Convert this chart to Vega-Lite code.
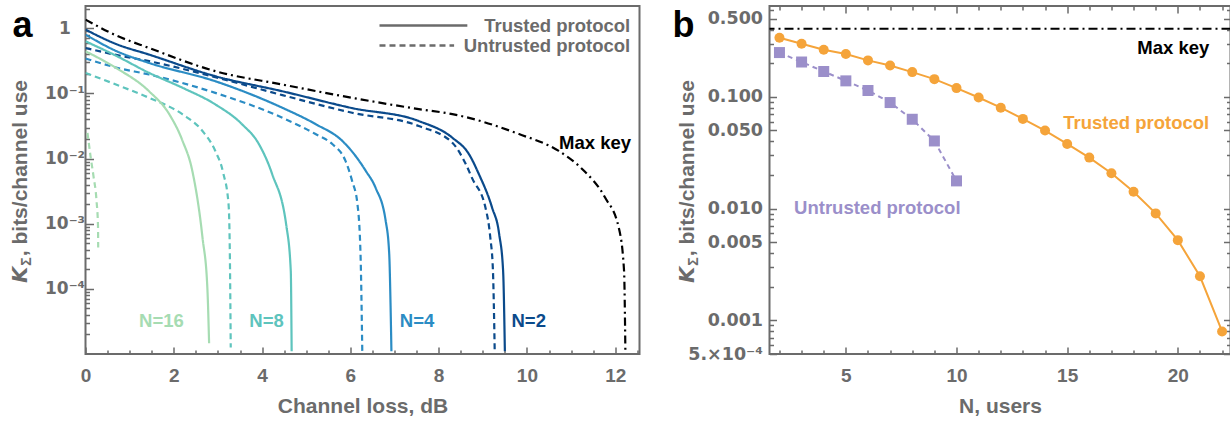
{
"$schema":"https://vega.github.io/schema/vega-lite/v6.json",
"autosize":{"type":"pad"},
"padding":{"left":7.5,"top":4,"right":0,"bottom":0},
"bounds":"flush",
"spacing":130,
"config":{
 "font":"Liberation Sans",
 "view":{"stroke":"#6b6b6b","strokeWidth":2},
 "axis":{"domain":false,"grid":false,"labelFont":"Liberation Sans","labelFontWeight":"bold","labelColor":"#6b6b6b","labelFontSize":19,"titleFont":"Liberation Sans","titleFontWeight":"bold","titleColor":"#6b6b6b","titleFontSize":21,"tickColor":"#6b6b6b","tickWidth":1.5,"labelOverlap":false,"labelFlush":false},
 "text":{"font":"Liberation Sans","fontWeight":"bold","fontSize":18.5}
},
"datasets":{
 "curves":[
  {"series":"Max key","protocol":"Max key","L":0,"K":1.36},
  {"series":"Max key","protocol":"Max key","L":0.69,"K":0.78},
  {"series":"Max key","protocol":"Max key","L":1.44,"K":0.499},
  {"series":"Max key","protocol":"Max key","L":2.94,"K":0.22},
  {"series":"Max key","protocol":"Max key","L":4.46,"K":0.137},
  {"series":"Max key","protocol":"Max key","L":6.04,"K":0.0857},
  {"series":"Max key","protocol":"Max key","L":7.55,"K":0.0575},
  {"series":"Max key","protocol":"Max key","L":8.31,"K":0.0482},
  {"series":"Max key","protocol":"Max key","L":9.82,"K":0.0238},
  {"series":"Max key","protocol":"Max key","L":10.72,"K":0.0131},
  {"series":"Max key","protocol":"Max key","L":11.25,"K":0.00693},
  {"series":"Max key","protocol":"Max key","L":11.77,"K":0.00252},
  {"series":"Max key","protocol":"Max key","L":12.08,"K":0.00087},
  {"series":"Max key","protocol":"Max key","L":12.2,"K":0.00019},
  {"series":"Max key","protocol":"Max key","L":12.23,"K":0.000011},
  {"series":"N=2","protocol":"Trusted protocol","L":0,"K":0.955},
  {"series":"N=2","protocol":"Trusted protocol","L":0.69,"K":0.575},
  {"series":"N=2","protocol":"Trusted protocol","L":1.44,"K":0.395},
  {"series":"N=2","protocol":"Trusted protocol","L":2.94,"K":0.184},
  {"series":"N=2","protocol":"Trusted protocol","L":4.46,"K":0.108},
  {"series":"N=2","protocol":"Trusted protocol","L":6.04,"K":0.0596},
  {"series":"N=2","protocol":"Trusted protocol","L":7.55,"K":0.0377},
  {"series":"N=2","protocol":"Trusted protocol","L":8.31,"K":0.0209},
  {"series":"N=2","protocol":"Trusted protocol","L":8.69,"K":0.0116},
  {"series":"N=2","protocol":"Trusted protocol","L":8.91,"K":0.0058},
  {"series":"N=2","protocol":"Trusted protocol","L":9.21,"K":0.00177},
  {"series":"N=2","protocol":"Trusted protocol","L":9.37,"K":0.0007},
  {"series":"N=2","protocol":"Trusted protocol","L":9.46,"K":0.00019},
  {"series":"N=2","protocol":"Trusted protocol","L":9.5,"K":0.000011},
  {"series":"N=2","protocol":"Untrusted protocol","L":0,"K":0.499},
  {"series":"N=2","protocol":"Untrusted protocol","L":0.69,"K":0.39},
  {"series":"N=2","protocol":"Untrusted protocol","L":1.44,"K":0.313},
  {"series":"N=2","protocol":"Untrusted protocol","L":2.94,"K":0.178},
  {"series":"N=2","protocol":"Untrusted protocol","L":4.46,"K":0.0942},
  {"series":"N=2","protocol":"Untrusted protocol","L":6.04,"K":0.0505},
  {"series":"N=2","protocol":"Untrusted protocol","L":7.55,"K":0.0316},
  {"series":"N=2","protocol":"Untrusted protocol","L":8.31,"K":0.0175},
  {"series":"N=2","protocol":"Untrusted protocol","L":8.62,"K":0.0081},
  {"series":"N=2","protocol":"Untrusted protocol","L":8.76,"K":0.00496},
  {"series":"N=2","protocol":"Untrusted protocol","L":9.06,"K":0.00177},
  {"series":"N=2","protocol":"Untrusted protocol","L":9.17,"K":0.000615},
  {"series":"N=2","protocol":"Untrusted protocol","L":9.23,"K":0.00019},
  {"series":"N=2","protocol":"Untrusted protocol","L":9.27,"K":0.000011},
  {"series":"N=4","protocol":"Trusted protocol","L":0,"K":0.8},
  {"series":"N=4","protocol":"Trusted protocol","L":0.69,"K":0.45},
  {"series":"N=4","protocol":"Trusted protocol","L":1.44,"K":0.294},
  {"series":"N=4","protocol":"Trusted protocol","L":2.94,"K":0.154},
  {"series":"N=4","protocol":"Trusted protocol","L":4.46,"K":0.0602},
  {"series":"N=4","protocol":"Trusted protocol","L":5.21,"K":0.0339},
  {"series":"N=4","protocol":"Trusted protocol","L":5.82,"K":0.0186},
  {"series":"N=4","protocol":"Trusted protocol","L":6.2,"K":0.0092},
  {"series":"N=4","protocol":"Trusted protocol","L":6.35,"K":0.00646},
  {"series":"N=4","protocol":"Trusted protocol","L":6.57,"K":0.00358},
  {"series":"N=4","protocol":"Trusted protocol","L":6.8,"K":0.00111},
  {"series":"N=4","protocol":"Trusted protocol","L":6.88,"K":0.000346},
  {"series":"N=4","protocol":"Trusted protocol","L":6.91,"K":0.000059},
  {"series":"N=4","protocol":"Trusted protocol","L":6.93,"K":0.000011},
  {"series":"N=4","protocol":"Untrusted protocol","L":0,"K":0.344},
  {"series":"N=4","protocol":"Untrusted protocol","L":0.69,"K":0.25},
  {"series":"N=4","protocol":"Untrusted protocol","L":1.44,"K":0.195},
  {"series":"N=4","protocol":"Untrusted protocol","L":2.94,"K":0.102},
  {"series":"N=4","protocol":"Untrusted protocol","L":4.46,"K":0.0423},
  {"series":"N=4","protocol":"Untrusted protocol","L":5.21,"K":0.0238},
  {"series":"N=4","protocol":"Untrusted protocol","L":5.59,"K":0.0167},
  {"series":"N=4","protocol":"Untrusted protocol","L":5.89,"K":0.0092},
  {"series":"N=4","protocol":"Untrusted protocol","L":6.04,"K":0.00454},
  {"series":"N=4","protocol":"Untrusted protocol","L":6.16,"K":0.00202},
  {"series":"N=4","protocol":"Untrusted protocol","L":6.23,"K":0.000346},
  {"series":"N=4","protocol":"Untrusted protocol","L":6.27,"K":0.000011},
  {"series":"N=8","protocol":"Trusted protocol","L":0,"K":0.632},
  {"series":"N=8","protocol":"Trusted protocol","L":0.69,"K":0.38},
  {"series":"N=8","protocol":"Trusted protocol","L":1.44,"K":0.207},
  {"series":"N=8","protocol":"Trusted protocol","L":2.2,"K":0.122},
  {"series":"N=8","protocol":"Trusted protocol","L":2.94,"K":0.0679},
  {"series":"N=8","protocol":"Trusted protocol","L":3.55,"K":0.0335},
  {"series":"N=8","protocol":"Trusted protocol","L":3.93,"K":0.0166},
  {"series":"N=8","protocol":"Trusted protocol","L":4.23,"K":0.00575},
  {"series":"N=8","protocol":"Trusted protocol","L":4.55,"K":0.00093},
  {"series":"N=8","protocol":"Trusted protocol","L":4.65,"K":0.00019},
  {"series":"N=8","protocol":"Trusted protocol","L":4.67,"K":0.000011},
  {"series":"N=8","protocol":"Untrusted protocol","L":0,"K":0.207},
  {"series":"N=8","protocol":"Untrusted protocol","L":0.69,"K":0.137},
  {"series":"N=8","protocol":"Untrusted protocol","L":1.44,"K":0.0857},
  {"series":"N=8","protocol":"Untrusted protocol","L":2.2,"K":0.0477},
  {"series":"N=8","protocol":"Untrusted protocol","L":2.65,"K":0.0265},
  {"series":"N=8","protocol":"Untrusted protocol","L":2.94,"K":0.0131},
  {"series":"N=8","protocol":"Untrusted protocol","L":3.12,"K":0.00602},
  {"series":"N=8","protocol":"Untrusted protocol","L":3.24,"K":0.00202},
  {"series":"N=8","protocol":"Untrusted protocol","L":3.27,"K":0.000346},
  {"series":"N=8","protocol":"Untrusted protocol","L":3.29,"K":0.0000126},
  {"series":"N=16","protocol":"Trusted protocol","L":0,"K":0.444},
  {"series":"N=16","protocol":"Trusted protocol","L":0.69,"K":0.247},
  {"series":"N=16","protocol":"Trusted protocol","L":1.44,"K":0.108},
  {"series":"N=16","protocol":"Trusted protocol","L":1.9,"K":0.0477},
  {"series":"N=16","protocol":"Trusted protocol","L":2.2,"K":0.0186},
  {"series":"N=16","protocol":"Trusted protocol","L":2.42,"K":0.00646},
  {"series":"N=16","protocol":"Trusted protocol","L":2.65,"K":0.000615},
  {"series":"N=16","protocol":"Trusted protocol","L":2.76,"K":0.000105},
  {"series":"N=16","protocol":"Trusted protocol","L":2.8,"K":0.0000146},
  {"series":"N=16","protocol":"Untrusted protocol","L":0.045,"K":0.0249},
  {"series":"N=16","protocol":"Untrusted protocol","L":0.113,"K":0.011},
  {"series":"N=16","protocol":"Untrusted protocol","L":0.18,"K":0.00542},
  {"series":"N=16","protocol":"Untrusted protocol","L":0.25,"K":0.00224},
  {"series":"N=16","protocol":"Untrusted protocol","L":0.283,"K":0.00093},
  {"series":"N=16","protocol":"Untrusted protocol","L":0.2875,"K":0.00043}
 ],
 "alabels":[
  {"series":"N=16","label":"N=16","L":1.72,"K":0.0000326},
  {"series":"N=8","label":"N=8","L":4.1,"K":0.0000326},
  {"series":"N=4","label":"N=4","L":7.51,"K":0.0000326},
  {"series":"N=2","label":"N=2","L":10.04,"K":0.0000326},
  {"series":"Max key","label":"Max key","L":12.36,"K":0.0175}
 ],
 "alegend":[
  {"protocol":"Trusted protocol","L1":6.66,"L2":8.65,"Lt":12.34,"K":1.1},
  {"protocol":"Untrusted protocol","L1":6.66,"L2":8.35,"Lt":12.34,"K":0.543}
 ],
 "bpts":[
  {"protocol":"Trusted protocol","N":2,"K":0.338},
  {"protocol":"Trusted protocol","N":3,"K":0.299},
  {"protocol":"Trusted protocol","N":4,"K":0.264},
  {"protocol":"Trusted protocol","N":5,"K":0.242},
  {"protocol":"Trusted protocol","N":6,"K":0.212},
  {"protocol":"Trusted protocol","N":7,"K":0.191},
  {"protocol":"Trusted protocol","N":8,"K":0.1665},
  {"protocol":"Trusted protocol","N":9,"K":0.144},
  {"protocol":"Trusted protocol","N":10,"K":0.1197},
  {"protocol":"Trusted protocol","N":11,"K":0.0986},
  {"protocol":"Trusted protocol","N":12,"K":0.08},
  {"protocol":"Trusted protocol","N":13,"K":0.0635},
  {"protocol":"Trusted protocol","N":14,"K":0.0499},
  {"protocol":"Trusted protocol","N":15,"K":0.0379},
  {"protocol":"Trusted protocol","N":16,"K":0.0286},
  {"protocol":"Trusted protocol","N":17,"K":0.0207},
  {"protocol":"Trusted protocol","N":18,"K":0.01416},
  {"protocol":"Trusted protocol","N":19,"K":0.00906},
  {"protocol":"Trusted protocol","N":20,"K":0.00522},
  {"protocol":"Trusted protocol","N":21,"K":0.00248},
  {"protocol":"Trusted protocol","N":22,"K":0.000796},
  {"protocol":"Untrusted protocol","N":2,"K":0.249},
  {"protocol":"Untrusted protocol","N":3,"K":0.205},
  {"protocol":"Untrusted protocol","N":4,"K":0.1686},
  {"protocol":"Untrusted protocol","N":5,"K":0.139},
  {"protocol":"Untrusted protocol","N":6,"K":0.114},
  {"protocol":"Untrusted protocol","N":7,"K":0.0889},
  {"protocol":"Untrusted protocol","N":8,"K":0.063},
  {"protocol":"Untrusted protocol","N":9,"K":0.0403},
  {"protocol":"Untrusted protocol","N":10,"K":0.0177}
 ],
 "bmax":[{"series":"Max key","K":0.407}],
 "btext":[
  {"label":"Max key","N":21.42,"K":0.275},
  {"label":"Trusted protocol","N":21.42,"K":0.0588},
  {"label":"Untrusted protocol","N":2.66,"K":0.01005}
 ]
},
"hconcat":[
 {
  "width":554,"height":348,
  "resolve":{"axis":{"x":"independent","y":"independent"}},
  "layer":[
   {
    "data":{"name":"curves"},
    "mark":{"type":"line","strokeWidth":2.2,"interpolate":"monotone","clip":true},
    "encoding":{
     "x":{"field":"L","type":"quantitative","scale":{"domain":[0,12.55],"nice":false,"zero":false},
      "axis":{"orient":"bottom","values":[0,2,4,6,8,10,12],"ticks":false,"labelPadding":12,"title":"Channel loss, dB","titleY":52,"titleBaseline":"middle"}},
     "y":{"field":"K","type":"quantitative","scale":{"type":"log","domain":[0.00001,2.2],"nice":false},
      "axis":{"orient":"left","values":[1,0.1,0.01,0.001,0.0001],"ticks":false,"labelAlign":"center","labelPadding":21,"labelFont":"DejaVu Sans","labelFontSize":17,
       "labelExpr":"datum.value > 0.5 ? '1' : datum.value > 0.05 ? '10⁻¹' : datum.value > 0.005 ? '10⁻²' : datum.value > 0.0005 ? '10⁻³' : '10⁻⁴'",
       "title":", bits/channel use","titleX":-65,"titleY":249.7,"titleAngle":270,"titleBaseline":"middle","titleAlign":"left"}},
     "color":{"field":"series","type":"nominal","scale":{"domain":["N=2","N=4","N=8","N=16","Max key"],"range":["#0b4a8b","#2b8cc4","#5ec4bd","#a6dcb2","#000000"]},"legend":null},
     "strokeDash":{"field":"protocol","type":"nominal","scale":{"domain":["Trusted protocol","Untrusted protocol","Max key"],"range":[[1,0],[6,4],[8,4,2,4]]},"legend":null}
    }
   },
   {
    "data":{"name":"alabels"},
    "transform":[{"filter":"datum.series != 'Max key'"}],
    "mark":{"type":"text","align":"center","baseline":"middle"},
    "encoding":{
     "x":{"field":"L","type":"quantitative","scale":{"domain":[0,12.55],"nice":false,"zero":false},
      "axis":{"orient":"bottom","values":[0,2,4,6,8,10,12],"labels":false,"tickSize":-7,"title":null}},
     "y":{"field":"K","type":"quantitative","scale":{"type":"log","domain":[0.00001,2.2],"nice":false},
      "axis":{"orient":"left","values":[1,0.1,0.01,0.001,0.0001],"labels":false,"tickSize":-8,
       "title":"a","titleX":-73.5,"titleY":30,"titleAngle":0,"titleAlign":"left","titleBaseline":"alphabetic","titleFontSize":36,"titleColor":"#000000"}},
     "text":{"field":"label"},
     "color":{"field":"series","type":"nominal","scale":{"domain":["N=2","N=4","N=8","N=16","Max key"],"range":["#0b4a8b","#2b8cc4","#5ec4bd","#a6dcb2","#000000"]},"legend":null}
    }
   },
   {
    "data":{"name":"alabels"},
    "transform":[{"filter":"datum.series == 'Max key'"}],
    "mark":{"type":"text","align":"right","baseline":"middle","color":"#000000"},
    "encoding":{
     "x":{"field":"L","type":"quantitative","scale":{"domain":[0,12.55],"nice":false,"zero":false},
      "axis":{"orient":"bottom","values":[0.5,1,1.5,2.5,3,3.5,4.5,5,5.5,6.5,7,7.5,8.5,9,9.5,10.5,11,11.5,12.5],"labels":false,"tickSize":-4,"title":null}},
     "y":{"field":"K","type":"quantitative","scale":{"type":"log","domain":[0.00001,2.2],"nice":false},
      "axis":{"orient":"left","values":[0.00002,0.00003,0.00004,0.00005,0.00006,0.00007,0.00008,0.00009,0.0002,0.0003,0.0004,0.0005,0.0006,0.0007,0.0008,0.0009,0.002,0.003,0.004,0.005,0.006,0.007,0.008,0.009,0.02,0.03,0.04,0.05,0.06,0.07,0.08,0.09,0.2,0.3,0.4,0.5,0.6,0.7,0.8,0.9,2],"labels":false,"tickSize":-4,
       "title":"𝙆","titleX":-65,"titleY":276,"titleAngle":270,"titleBaseline":"middle","titleAlign":"left"}},
     "text":{"field":"label"}
    }
   },
   {
    "data":{"name":"alegend"},
    "mark":{"type":"rule","color":"#6b6b6b","strokeWidth":2.5},
    "encoding":{
     "x":{"field":"L1","type":"quantitative","scale":{"domain":[0,12.55],"nice":false,"zero":false},"axis":null},
     "x2":{"field":"L2"},
     "y":{"field":"K","type":"quantitative","scale":{"type":"log","domain":[0.00001,2.2],"nice":false},
      "axis":{"orient":"left","labels":false,"ticks":false,"title":"Σ","titleX":-59.5,"titleY":259.2,"titleAngle":270,"titleBaseline":"middle","titleAlign":"left","titleFontSize":14}},
     "strokeDash":{"field":"protocol","type":"nominal","scale":{"domain":["Trusted protocol","Untrusted protocol","Max key"],"range":[[1,0],[6,4],[8,4,2,4]]},"legend":null}
    }
   },
   {
    "data":{"name":"alegend"},
    "mark":{"type":"text","align":"right","baseline":"middle","color":"#6b6b6b"},
    "encoding":{
     "x":{"field":"Lt","type":"quantitative","scale":{"domain":[0,12.55],"nice":false,"zero":false},"axis":null},
     "y":{"field":"K","type":"quantitative","scale":{"type":"log","domain":[0.00001,2.2],"nice":false},"axis":null},
     "text":{"field":"protocol"}
    }
   }
  ]
 },
 {
  "width":461,"height":348,
  "resolve":{"axis":{"x":"independent","y":"independent"}},
  "layer":[
   {
    "data":{"name":"bpts"},
    "transform":[{"filter":"datum.protocol == 'Trusted protocol'"}],
    "mark":{"type":"line","color":"#f5a43a","strokeWidth":2,"point":{"filled":true,"shape":"circle","size":100,"color":"#f5a43a"}},
    "encoding":{
     "x":{"field":"N","type":"quantitative","scale":{"domain":[1.55,22.38],"nice":false,"zero":false},
      "axis":{"orient":"bottom","values":[5,10,15,20],"ticks":false,"labelPadding":12,"title":"N, users","titleY":52,"titleBaseline":"middle"}},
     "y":{"field":"K","type":"quantitative","scale":{"type":"log","domain":[0.0005,0.65],"nice":false},
      "axis":{"orient":"left","values":[0.5,0.1,0.05,0.01,0.005,0.001,0.0005],"ticks":false,"labelPadding":7,"labelFont":"DejaVu Sans","labelFontSize":17.5,
       "labelExpr":"datum.value > 0.3 ? '0.500' : datum.value > 0.07 ? '0.100' : datum.value > 0.03 ? '0.050' : datum.value > 0.007 ? '0.010' : datum.value > 0.003 ? '0.005' : datum.value > 0.0007 ? '0.001' : '5.×10⁻⁴'",
       "title":", bits/channel use","titleX":-82,"titleY":249.7,"titleAngle":270,"titleBaseline":"middle","titleAlign":"left"}}
    }
   },
   {
    "data":{"name":"bpts"},
    "transform":[{"filter":"datum.protocol == 'Untrusted protocol'"}],
    "mark":{"type":"line","color":"#9b8fca","strokeWidth":2,"strokeDash":[5,4],"point":{"filled":true,"shape":"square","size":121,"color":"#9b8fca"}},
    "encoding":{
     "x":{"field":"N","type":"quantitative","scale":{"domain":[1.55,22.38],"nice":false,"zero":false},
      "axis":{"orient":"bottom","values":[5,10,15,20],"labels":false,"tickSize":-7,"title":null}},
     "y":{"field":"K","type":"quantitative","scale":{"type":"log","domain":[0.0005,0.65],"nice":false},
      "axis":{"orient":"left","values":[0.5,0.1,0.05,0.01,0.005,0.001,0.0005],"labels":false,"tickSize":-7,
       "title":"b","titleX":-97.5,"titleY":30,"titleAngle":0,"titleAlign":"left","titleBaseline":"alphabetic","titleFontSize":36,"titleColor":"#000000"}}
    }
   },
   {
    "data":{"name":"bmax"},
    "mark":{"type":"rule","color":"#000000","strokeWidth":2,"strokeDash":[9,4,2,4]},
    "encoding":{
     "y":{"field":"K","type":"quantitative","scale":{"type":"log","domain":[0.0005,0.65],"nice":false},
      "axis":{"orient":"left","values":[0.0006,0.0007,0.0008,0.0009,0.002,0.003,0.004,0.006,0.007,0.008,0.009,0.02,0.03,0.04,0.06,0.07,0.08,0.09,0.2,0.3,0.4,0.6],"labels":false,"tickSize":-4,
       "title":"𝙆","titleX":-82,"titleY":276,"titleAngle":270,"titleBaseline":"middle","titleAlign":"left"}}
    }
   },
   {
    "data":{"name":"btext"},
    "transform":[{"filter":"datum.label == 'Max key'"}],
    "mark":{"type":"text","align":"right","baseline":"middle","color":"#000000"},
    "encoding":{
     "x":{"field":"N","type":"quantitative","scale":{"domain":[1.55,22.38],"nice":false,"zero":false},
      "axis":{"orient":"bottom","values":[2,3,4,6,7,8,9,11,12,13,14,16,17,18,19,21,22],"labels":false,"tickSize":-4,"title":null}},
     "y":{"field":"K","type":"quantitative","scale":{"type":"log","domain":[0.0005,0.65],"nice":false},
      "axis":{"orient":"right","values":[0.5,0.1,0.05,0.01,0.005,0.001,0.0005],"labels":false,"tickSize":-7,"title":null}},
     "text":{"field":"label"}
    }
   },
   {
    "data":{"name":"btext"},
    "transform":[{"filter":"datum.label == 'Trusted protocol'"}],
    "mark":{"type":"text","align":"right","baseline":"middle","color":"#f5a43a"},
    "encoding":{
     "x":{"field":"N","type":"quantitative","scale":{"domain":[1.55,22.38],"nice":false,"zero":false},
      "axis":{"orient":"top","values":[5,10,15,20],"labels":false,"tickSize":-7,"title":null}},
     "y":{"field":"K","type":"quantitative","scale":{"type":"log","domain":[0.0005,0.65],"nice":false},
      "axis":{"orient":"right","values":[0.0006,0.0007,0.0008,0.0009,0.002,0.003,0.004,0.006,0.007,0.008,0.009,0.02,0.03,0.04,0.06,0.07,0.08,0.09,0.2,0.3,0.4,0.6],"labels":false,"tickSize":-4,"title":null}},
     "text":{"field":"label"}
    }
   },
   {
    "data":{"name":"btext"},
    "transform":[{"filter":"datum.label == 'Untrusted protocol'"}],
    "mark":{"type":"text","align":"left","baseline":"middle","color":"#9b8fca"},
    "encoding":{
     "x":{"field":"N","type":"quantitative","scale":{"domain":[1.55,22.38],"nice":false,"zero":false},
      "axis":{"orient":"top","values":[2,3,4,6,7,8,9,11,12,13,14,16,17,18,19,21,22],"labels":false,"tickSize":-4,"title":null}},
     "y":{"field":"K","type":"quantitative","scale":{"type":"log","domain":[0.0005,0.65],"nice":false},
      "axis":{"orient":"left","labels":false,"ticks":false,"title":"Σ","titleX":-76.5,"titleY":259.2,"titleAngle":270,"titleBaseline":"middle","titleAlign":"left","titleFontSize":14}},
     "text":{"field":"label"}
    }
   }
  ]
 }
]
}
